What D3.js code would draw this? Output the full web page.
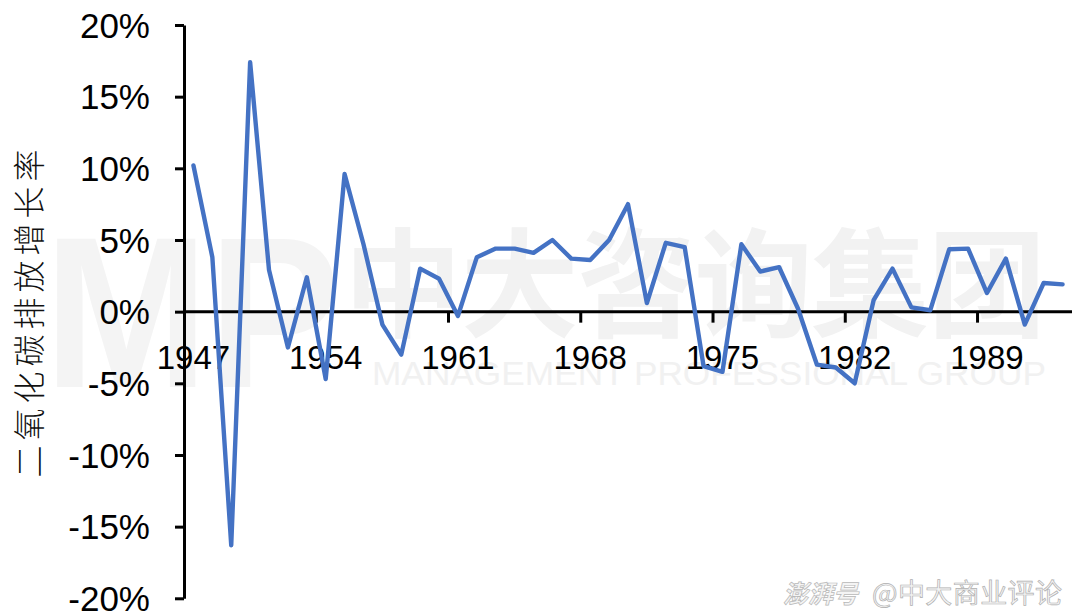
<!DOCTYPE html>
<html>
<head>
<meta charset="utf-8">
<script src="https://cdn.jsdelivr.net/npm/d3@7"></script>
<style>
  html, body { margin: 0; padding: 0; background: #fff; }
  svg { display: block; }
</style>
</head>
<body>
<svg id="chart" width="1080" height="616"></svg>
<script>
// ---- data ----
const years = d3.range(1947, 1994);
const growth = [
  10.2, 3.8, -16.3, 17.4, 2.9, -2.5, 2.4, -4.7, 9.6, 4.7,
  -0.9, -3.0, 3.0, 2.3, -0.3, 3.8, 4.4, 4.4, 4.1, 5.0,
  3.7, 3.6, 5.0, 7.5, 0.6, 4.8, 4.5, -3.8, -4.2, 4.7,
  2.8, 3.1, 0.2, -3.7, -3.9, -5.0, 0.8, 3.0, 0.3, 0.1,
  4.35, 4.4, 1.3, 3.7, -0.9, 2.0, 1.9
];
const yTicks = [-20, -15, -10, -5, 0, 5, 10, 15, 20];
const labelYears = [1947, 1954, 1961, 1968, 1975, 1982, 1989];
const yTitle = "二氧化碳排放增长率";
const wmMain = "中大咨询集团";
const wmSub = "MANAGEMENT PROFESSIONAL GROUP";
const wmLogo = "MP";
const credit1 = "澎湃号";
const credit2 = "@中大商业评论";

// ---- layout ----
const svg = d3.select("#chart");
const x = d3.scaleBand().domain(years).range([184, 1072]).paddingInner(0).paddingOuter(0);
const y = d3.scaleLinear().domain([-20, 20]).range([598.3, 25]);
const cx = d => x(d) + x.bandwidth() / 2;

// ---- watermark (behind) ----
const wm = svg.append("g").attr("class", "watermark");
wm.append("text").attr("x", 44).attr("y", 387)
  .attr("font-family", "Liberation Sans, Arial, sans-serif").attr("font-weight", "bold")
  .attr("font-size", 215).attr("fill", "#f4f4f4")
  .attr("textLength", 296).attr("lengthAdjust", "spacingAndGlyphs").text(wmLogo);
wm.append("text").attr("x", 344).attr("y", 328)
  .attr("font-family", "Noto Sans CJK SC").attr("font-weight", "bold")
  .attr("font-size", 118).attr("fill", "#f2f2f2")
  .attr("textLength", 702).attr("lengthAdjust", "spacing").text(wmMain);
wm.append("text").attr("x", 372).attr("y", 385)
  .attr("font-family", "Liberation Sans Narrow, Liberation Sans, Arial, sans-serif")
  .attr("font-size", 33).attr("fill", "#f1f1f1")
  .attr("textLength", 674).attr("lengthAdjust", "spacingAndGlyphs").text(wmSub);

// ---- y axis ----
const yAxis = d3.axisLeft(y).tickValues(yTicks).tickFormat(d => d + "%").tickSize(9).tickSizeOuter(0);
const gy = svg.append("g").attr("transform", "translate(184,0)").call(yAxis);
gy.select(".domain").attr("stroke", "#000").attr("stroke-width", 3);
gy.selectAll(".tick line").attr("stroke", "#000").attr("stroke-width", 3);
gy.selectAll(".tick text")
  .attr("x", -34).attr("dy", "0.35em")
  .attr("font-family", "Liberation Sans, Arial, sans-serif")
  .attr("font-size", 35).attr("fill", "#000");

// ---- x axis at zero ----
const xTickYears = years.filter((d, i) => i % 7 === 0);
const gx = svg.append("g").attr("transform", `translate(0,${y(0)})`);
gx.append("line").attr("x1", 184).attr("x2", 1072).attr("y1", 0).attr("y2", 0)
  .attr("stroke", "#000").attr("stroke-width", 3);
gx.selectAll("line.tick").data(xTickYears.slice(1)).join("line")
  .attr("class", "tick")
  .attr("x1", d => x(d)).attr("x2", d => x(d))
  .attr("y1", 0).attr("y2", 11)
  .attr("stroke", "#000").attr("stroke-width", 3);
gx.selectAll("text.lab").data(labelYears).join("text")
  .attr("class", "lab")
  .attr("x", d => cx(d)).attr("y", 57)
  .attr("text-anchor", "middle")
  .attr("font-family", "Liberation Sans, Arial, sans-serif")
  .attr("font-size", 33).attr("fill", "#000")
  .text(d => d);

// ---- line ----
const line = d3.line().x((d, i) => cx(years[i])).y(d => y(d));
svg.append("path").datum(growth)
  .attr("d", line).attr("fill", "none")
  .attr("stroke", "#4472C4").attr("stroke-width", 4.4)
  .attr("stroke-linejoin", "round").attr("stroke-linecap", "round");

// ---- y title ----
svg.append("text")
  .attr("transform", "translate(41,311) rotate(-90)")
  .attr("text-anchor", "middle")
  .attr("font-family", "Noto Sans CJK SC")
  .attr("font-size", 32).attr("font-weight", 300)
  .attr("letter-spacing", 5)
  .attr("fill", "#111").text(yTitle);

// ---- credit ----
svg.append("text").attr("x", 783).attr("y", 603)
  .attr("font-family", "Noto Sans CJK SC").attr("font-weight", "bold").attr("font-style", "italic")
  .attr("font-size", 25).attr("fill", "#f4f4f4").attr("stroke", "#b8b8b8").attr("stroke-width", 0.7)
  .text(credit1);
svg.append("text").attr("x", 872).attr("y", 603)
  .attr("font-family", "Noto Sans CJK SC")
  .attr("font-size", 27).attr("fill", "#f4f4f4").attr("stroke", "#b0b0b0").attr("stroke-width", 0.7)
  .attr("textLength", 190).attr("lengthAdjust", "spacing")
  .text(credit2);
</script>
</body>
</html>
